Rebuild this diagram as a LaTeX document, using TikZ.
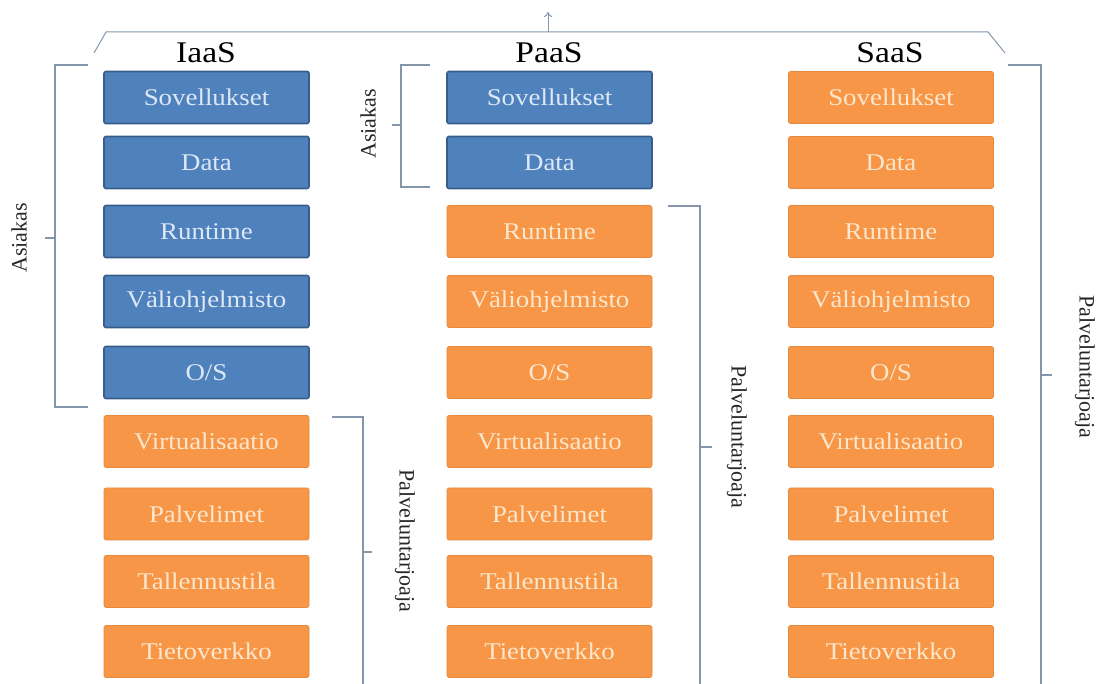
\documentclass[tikz,border=0pt]{standalone}
\usepackage{fontspec}
\setmainfont{Liberation Serif}
\newfontfamily\widerserif[FakeStretch=1.12]{Liberation Serif}
\usetikzlibrary{arrows.meta}

\definecolor{custfill}{HTML}{4F81BD}
\definecolor{custedge}{HTML}{385D8A}
\definecolor{custtext}{HTML}{DCE8F5}
\definecolor{provfill}{HTML}{F79646}
\definecolor{provedge}{HTML}{E5893E}
\definecolor{provtext}{HTML}{FCE6CC}
\definecolor{brkgray}{HTML}{8596AC}

\newcommand\layerfont{\widerserif\fontsize{24}{28}\selectfont}
\newcommand\headfont{\widerserif\fontsize{30}{36}\selectfont}
\newcommand\sidefont{\rmfamily\fontsize{22}{26}\selectfont}

\tikzset{
  layer/.style={minimum width=205pt, minimum height=52pt, inner sep=0pt,
    rounded corners=2pt, font=\layerfont},
  cust/.style={layer, fill=custfill, draw=custedge, line width=1.6pt, text=custtext},
  prov/.style={layer, fill=provfill, draw=provedge, line width=0.6pt, text=provtext},
  brk/.style={draw=brkgray, line width=1.3pt},
  head/.style={font=\headfont, anchor=base, inner sep=0pt},
  side/.style={font=\sidefont, text=black!85, inner sep=0pt},
}

\begin{document}
\begin{tikzpicture}[x=1pt, y=-1pt]
  \useasboundingbox (0,0) rectangle (1096,684);

  % service stacks: the first \nc layers are managed by the customer
  \foreach \col/\cx/\nc in {i/206.5/5, p/549.5/2, s/891/0} {
    \foreach \lbl/\cy [count=\k] in {Sovellukset/97.5, Data/162.5, Runtime/231.5,
        {Väliohjelmisto}/301.5, {O/S}/372.5, Virtualisaatio/441.5, Palvelimet/514,
        Tallennustila/581.5, Tietoverkko/651.5} {
      \ifnum\k>\nc
        \node[prov] (\col\k) at (\cx,\cy) {\lbl};
      \else
        \node[cust] (\col\k) at (\cx,\cy) {\lbl};
      \fi
    }
  }

  % column headings
  \node[head] (hi) at (206,63) {IaaS};
  \node[head] (hp) at (549,63) {PaaS};
  \node[head] (hs) at (890,63) {SaaS};

  % overall bracket with the upward arrow
  \coordinate (tl) at (94,53);
  \coordinate (tla) at (106,32);
  \coordinate (tm) at (548,32);
  \coordinate (tup) at (548,12);
  \coordinate (tra) at (988,32);
  \coordinate (tr) at (1005,53);
  \draw[brk, line width=1pt] (tl) -- (tla) -- (tra) -- (tr);
  \draw[brk, line width=1pt, -{To[length=5pt,width=8pt]}] (tm) -- (tup);

  % IaaS: customer part
  \coordinate (a1t) at (88,65);  \coordinate (a1b) at (88,407);
  \coordinate (a1v) at (55,238); \coordinate (a1k) at (45,238);
  \draw[brk] (a1t) -| (a1v) |- (a1b);
  \draw[brk] (a1v) -- (a1k);
  \node[side, rotate=90] (la1) at (19,238) {Asiakas};

  % IaaS: provider part
  \coordinate (b1t) at (332,417); \coordinate (b1v) at (363,552);
  \coordinate (b1e) at (363,684); \coordinate (b1k) at (372,552);
  \draw[brk] (b1t) -| (b1e);
  \draw[brk] (b1v) -- (b1k);
  \node[side, rotate=-90] (lb1) at (405,541) {Palveluntarjoaja};

  % PaaS: customer part
  \coordinate (a2t) at (430,65);  \coordinate (a2b) at (430,187);
  \coordinate (a2v) at (401,125); \coordinate (a2k) at (392,125);
  \draw[brk] (a2t) -| (a2v) |- (a2b);
  \draw[brk] (a2v) -- (a2k);
  \node[side, rotate=90] (la2) at (368,124) {Asiakas};

  % PaaS: provider part
  \coordinate (b2t) at (668,206); \coordinate (b2v) at (700,447);
  \coordinate (b2e) at (700,684); \coordinate (b2k) at (712,447);
  \draw[brk] (b2t) -| (b2e);
  \draw[brk] (b2v) -- (b2k);
  \node[side, rotate=-90] (lb2) at (737,437) {Palveluntarjoaja};

  % SaaS: provider part
  \coordinate (b3t) at (1008,65); \coordinate (b3v) at (1041,375);
  \coordinate (b3e) at (1041,684); \coordinate (b3k) at (1052,375);
  \draw[brk] (b3t) -| (b3e);
  \draw[brk] (b3v) -- (b3k);
  \node[side, rotate=-90] (lb3) at (1085,367) {Palveluntarjoaja};
\end{tikzpicture}
\end{document}
